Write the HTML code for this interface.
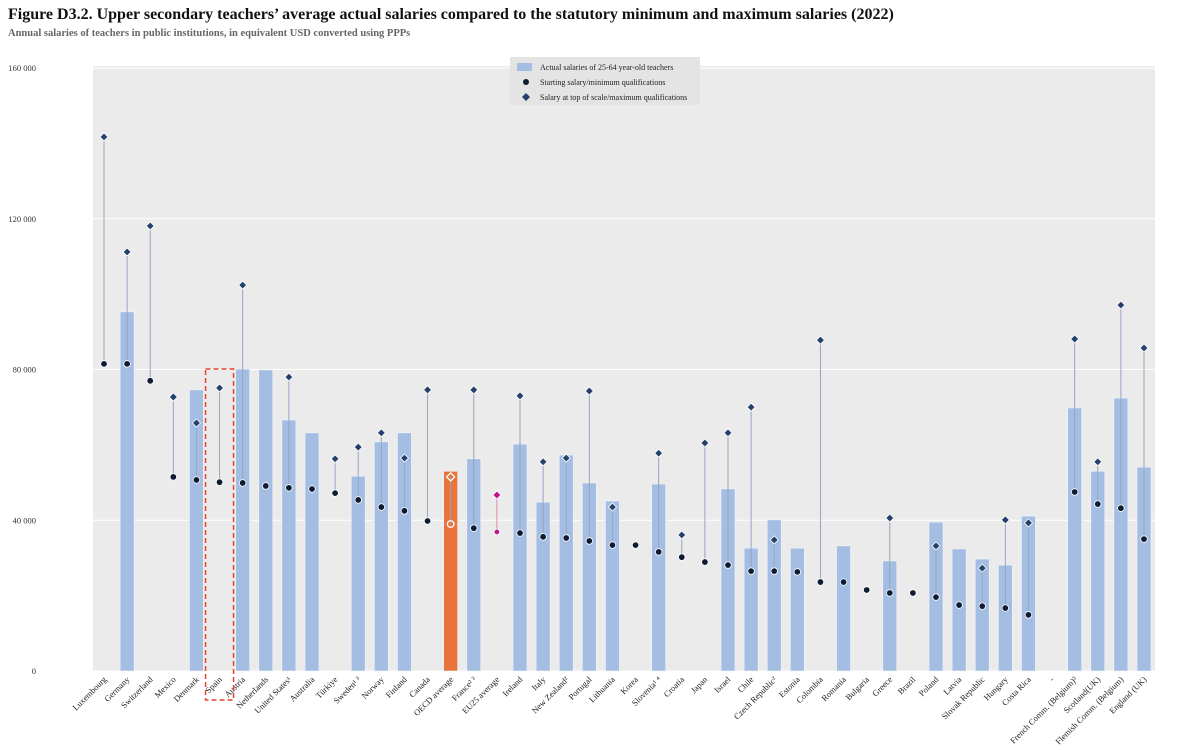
<!DOCTYPE html>
<html><head><meta charset="utf-8">
<style>
body{margin:0;background:#fff;font-family:"Liberation Serif",serif;}
#wrap{position:relative;width:1200px;height:750px;overflow:hidden;}
h1{position:absolute;left:8px;top:6px;margin:0;font-size:16px;font-weight:bold;color:#111;}
h2{position:absolute;left:8px;top:28px;margin:0;font-size:10.5px;font-weight:bold;color:#666;}
</style></head>
<body><div id="wrap">
<h1>Figure D3.2. Upper secondary teachers’ average actual salaries compared to the statutory minimum and maximum salaries (2022)</h1>
<h2>Annual salaries of teachers in public institutions, in equivalent USD converted using PPPs</h2>
<svg id="chart" width="1200" height="750" style="position:absolute;left:0;top:0"></svg>
</div>
<script>
const categories=["Luxembourg","Germany","Switzerland","Mexico","Denmark","Spain","Austria","Netherlands","United States¹","Australia","Türkiye","Sweden¹ ³","Norway","Finland","Canada","OECD average","France² ³","EU25 average","Ireland","Italy","New Zealand²","Portugal","Lithuania","Korea","Slovenia¹ ⁴","Croatia","Japan","Israel","Chile","Czech Republic²","Estonia","Colombia","Romania","Bulgaria","Greece","Brazil","Poland","Latvia","Slovak Republic","Hungary","Costa Rica","","French Comm. (Belgium)³","Scotland(UK)","Flemish Comm. (Belgium)","England (UK)"];
const actual=[null,95300,null,null,74600,null,80100,79900,66600,63200,null,51700,60800,63200,null,53000,56300,null,60200,44800,57300,49900,45100,null,49600,null,null,48300,32600,40100,32600,null,33200,null,29200,null,39500,32400,29700,28100,41100,null,69800,53000,72400,54100];
const minSal=[81500,81500,77000,51500,50700,50100,49900,49100,48600,48300,47200,45400,43500,42500,39800,39000,37900,36900,36600,35600,35300,34500,33400,33400,31600,30200,28900,28100,26500,26500,26300,23600,23600,21500,20700,20700,19600,17500,17200,16700,14900,null,47500,44300,43200,35000];
const maxSal=[141700,111200,118100,72700,65800,75100,102400,null,78000,null,56300,59400,63200,56500,74600,51500,74600,46700,73000,55500,56500,74300,43500,null,57800,36100,60500,63200,70000,34800,null,87800,null,null,40600,null,33200,null,27300,40100,39300,null,88100,55500,97100,85700];
const yTicks=[0,40000,80000,120000,160000];
const yTickLabels=["0","40 000","80 000","120 000","160 000"];

const svg=document.getElementById('chart');const NS="http://www.w3.org/2000/svg";
function mk(t,a,p){const e=document.createElementNS(NS,t);for(const k in a)e.setAttribute(k,a[k]);(p||svg).appendChild(e);return e;}
const X0=93,X1=1155,Y0=671,Y1=68;
const y=v=>Y0-(v/160000)*(Y0-Y1);
const x=i=>104+i*((1144-104)/(categories.length-1));
const bg=mk('rect',{x:X0,y:66,width:X1-X0,height:Y0-66,fill:'#ebebeb'});


yTicks.forEach((t,i)=>{
 const l=mk('line',{x1:X0,x2:X1,y1:y(t),y2:y(t),stroke:'#fff','stroke-width':1});
 
 
 const tx=mk('text',{x:36,y:y(t)+3,'font-size':8.5,'text-anchor':'end',fill:'#333'});tx.textContent=yTickLabels[i];
 
 
});
categories.forEach((c,i)=>{
 const cx=x(i);
 if(actual[i]!=null){
  const b=mk('rect',{x:cx-7,y:y(actual[i]),width:14,height:Y0-y(actual[i]),fill:c==="OECD average"?'#e8743b':'#a3bde3',stroke:'#f4f6fa','stroke-width':0.6});
  
  
 }
 if(minSal[i]!=null&&maxSal[i]!=null){
  const l=mk('line',{x1:cx,x2:cx,y1:y(minSal[i]),y2:y(maxSal[i]),stroke:c==="EU25 average"?'#d98ab8':'#95a6be','stroke-width':1});
  
  
 }
 const oecd=c==="OECD average",eu=c==="EU25 average";
 if(maxSal[i]!=null){
  const s=4;const v=y(maxSal[i]);
  const d=mk('polygon',{points:`${cx},${v-s} ${cx+s},${v} ${cx},${v+s} ${cx-s},${v}`,fill:oecd?'none':eu?'#c0168a':'#24406b',stroke:'#fff','stroke-width':oecd?1.3:0.8});
  
  
 }
 if(minSal[i]!=null){
  const d=mk('circle',{cx:cx,cy:y(minSal[i]),r:eu?2.8:3.3,fill:oecd?'none':eu?'#c0168a':'#0d1b33',stroke:'#fff','stroke-width':oecd?1.3:0.8});
  
  
 }
 const t=mk('text',{x:cx+3,y:680,'font-size':8.5,'text-anchor':'end',fill:'#222',transform:`rotate(-45 ${cx+3} 680)`});
 t.textContent=c===""?"-":c;
 
 
});
const sp=x(categories.indexOf("Spain"));
const hb=mk('rect',{x:sp-14,y:369,width:28,height:331,fill:'none',stroke:'#e8432f','stroke-width':1.5,'stroke-dasharray':'5,3'});


const lg=mk('g',{});


mk('rect',{x:510,y:57,width:190,height:48,fill:'#e4e4e4'},lg);
mk('rect',{x:517,y:63,width:15,height:8,fill:'#a3bde3'},lg);
let t1=mk('text',{x:540,y:70,'font-size':8,fill:'#222'},lg);t1.textContent="Actual salaries of 25-64 year-old teachers";


mk('circle',{cx:526,cy:82,r:3,fill:'#0d1b33'},lg);
let t2=mk('text',{x:540,y:85,'font-size':8,fill:'#222'},lg);t2.textContent="Starting salary/minimum qualifications";


mk('polygon',{points:'526,93 530,97 526,101 522,97',fill:'#24406b'},lg);
let t3=mk('text',{x:540,y:100,'font-size':8,fill:'#222'},lg);t3.textContent="Salary at top of scale/maximum qualifications";


</script>
</body></html>
